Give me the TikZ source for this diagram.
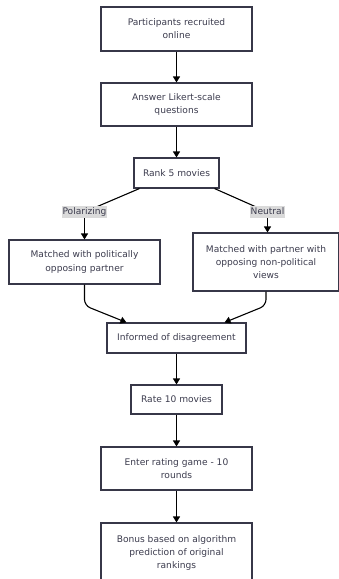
\documentclass[tikz,border=0pt]{standalone}
\usepackage{fontspec}
\setmainfont{DejaVu Sans}
\usetikzlibrary{arrows.meta,calc}
\definecolor{boxdraw}{RGB}{55,55,72}
\definecolor{txt}{RGB}{60,60,78}
\definecolor{labfill}{RGB}{218,218,218}
\tikzset{
  box/.style={draw=boxdraw, line width=1.1pt, fill=white, align=center,
    text=txt, font=\fontsize{9.1}{13.2}\selectfont, inner sep=0pt},
  edgelab/.style={fill=labfill, text=txt, font=\fontsize{9.1}{11}\selectfont,
    inner xsep=0.5pt, inner ysep=1.5pt, text height=7pt, text depth=2.2pt},
  conn/.style={draw=black, line width=1.1pt},
  arr/.style={conn, -{Triangle[length=6pt,width=7pt]}},
}
\begin{document}
\begin{tikzpicture}[x=1pt,y=-1pt]
\useasboundingbox (0,0) rectangle (339,579);
\node[box, minimum width=151pt, minimum height=44pt] (b1) at (176.5,29) {Participants recruited\\online};
\node[box, minimum width=151pt, minimum height=43pt] (b2) at (176.5,104.5) {Answer Likert-scale\\questions};
\node[box, minimum width=85pt, minimum height=30pt] (b3) at (176.5,173) {Rank 5 movies};
\node[box, minimum width=151pt, minimum height=44pt] (b4) at (84.5,262) {Matched with politically\\opposing partner};
\node[box, minimum width=146pt, minimum height=58pt] (b5) at (266,262) {Matched with partner with\\opposing non-political\\views};
\node[box, minimum width=139pt, minimum height=30pt] (b6) at (176.5,338) {Informed of disagreement};
\node[box, minimum width=91pt, minimum height=29pt] (b7) at (176.5,399.5) {Rate 10 movies};
\node[box, minimum width=151pt, minimum height=43pt] (b8) at (176.5,468.5) {Enter rating game - 10\\rounds};
\node[box, minimum width=151pt, minimum height=60pt] (b9) at (176.5,553) {Bonus based on algorithm\\prediction of original\\rankings};

\coordinate (b3l) at ($(b3.south west)+(6,0)$);
\coordinate (b3r) at ($(b3.south east)+(-5,0)$);
\coordinate (b6l) at ($(b6.north west)+(20,0)$);
\coordinate (b6r) at ($(b6.north east)+(-22,0)$);
\coordinate (p1) at (84.5,212);
\coordinate (p2) at (267.5,212);

\draw[arr] (b1) -- (b2);
\draw[arr] (b2) -- (b3);
\draw[conn] (b3l) -- (p1);
\draw[conn] (b3r) -- (p2);
\node[edgelab] (l1) at (p1) {Polarizing};
\node[edgelab] (l2) at (p2) {Neutral};
\draw[arr] (l1) -- (b4);
\draw[arr] (l2.south) -- (l2.south |- b5.north);
\draw[arr, rounded corners=6pt] (b4.south) -- ++(0,21) -- (b6l);
\draw[arr, rounded corners=6pt] (b5.south) -- ++(0,14) -- (b6r);
\draw[arr] (b6) -- (b7);
\draw[arr] (b7) -- (b8);
\draw[arr] (b8) -- (b9);
\end{tikzpicture}
\end{document}
